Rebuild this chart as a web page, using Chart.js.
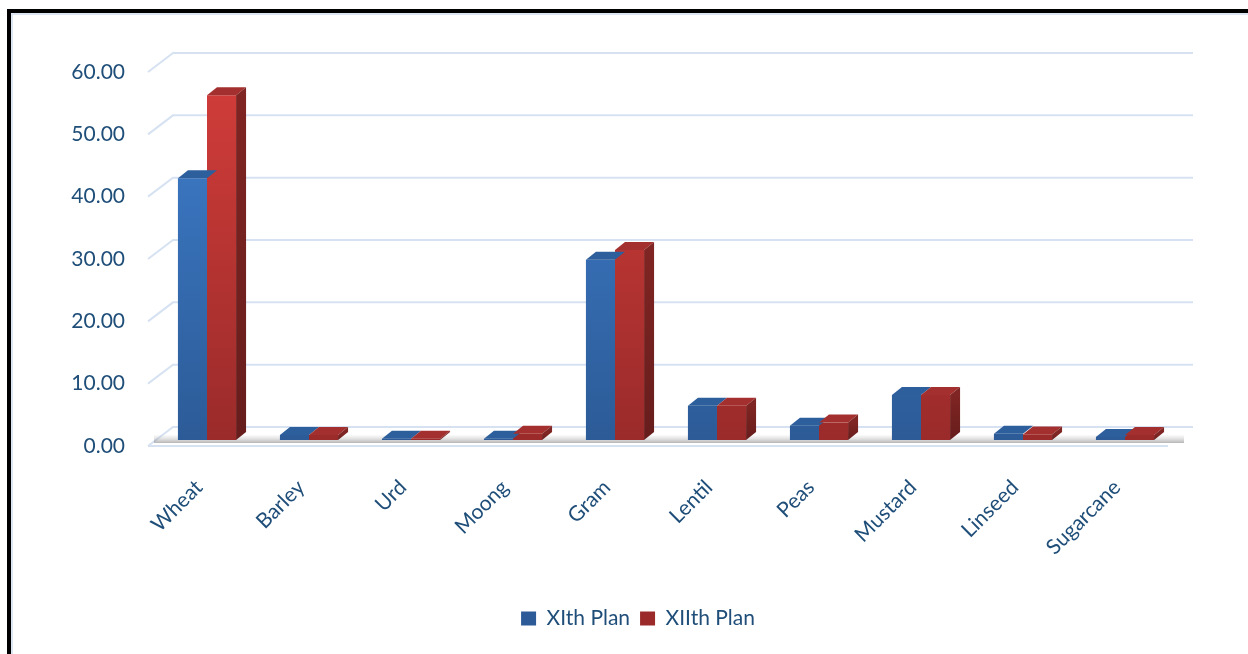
<!DOCTYPE html>
<html>
<head>
<meta charset="utf-8">
<script src="https://cdn.jsdelivr.net/npm/chart.js@4"></script>
<style>
  body { margin: 0; background: #fff; }
  #wrap { position: relative; width: 1248px; height: 654px; overflow: hidden; }
  #frame {
    position: absolute; left: 7px; top: 9px; width: 1260px; height: 660px;
    border-left: 4px solid #000; border-top: 4px solid #000;
    box-shadow: inset 2px 2px 0 #dce6f2;
  }
  canvas { position: absolute; left: 0; top: 0; }
</style>
</head>
<body>
<div id="wrap">
  <canvas id="chart" width="1248" height="654"></canvas>
  <div id="frame"></div>
</div>
<script>
const crops = ["Wheat", "Barley", "Urd", "Moong", "Gram", "Lentil", "Peas", "Mustard", "Linseed", "Sugarcane"];
const xithPlan = [42.0, 0.8, 0.2, 0.2, 28.9, 5.5, 2.3, 7.2, 1.0, 0.5];
const xiithPlan = [55.3, 0.8, 0.2, 1.0, 30.5, 5.5, 2.8, 7.2, 0.9, 0.8];
const yTicks = [0, 10, 20, 30, 40, 50, 60];

// depth of the 3d box and of the bars
const wallDx = 25, wallDy = 19;
const barShiftX = 8, barShiftY = 6;
const barDx = 10, barDy = 8;
const textColor = "#1F4E79";
const fontFamily = "Lato, 'Open Sans', sans-serif";

// gradient from top to bottom of the plot
function fade(top, bottom) {
  return (c) => {
    const { ctx, chartArea } = c.chart;
    if (!chartArea) return top;
    const g = ctx.createLinearGradient(0, chartArea.top, 0, chartArea.bottom);
    g.addColorStop(0, top);
    g.addColorStop(1, bottom);
    return g;
  };
}

// back wall gridlines + floor
const wallPlugin = {
  id: "wall",
  afterLayout(chart) {
    // legend sits a bit right of centre in the original
    chart.legend.left += 54;
    chart.legend.right += 54;
  },
  beforeDatasetsDraw(chart) {
    const { ctx, chartArea } = chart;
    const y = chart.scales.y;
    const left = chartArea.left, right = chartArea.right;
    ctx.save();
    ctx.strokeStyle = "#d6e2f2";
    ctx.lineWidth = 2;
    yTicks.forEach((v) => {
      const py = y.getPixelForValue(v);
      ctx.beginPath();
      ctx.moveTo(left, py);
      ctx.lineTo(left + wallDx, py - wallDy);
      ctx.lineTo(right + wallDx, py - wallDy);
      ctx.stroke();
    });
    // floor front edge
    const base = y.getPixelForValue(0);
    ctx.beginPath();
    ctx.moveTo(left, base);
    ctx.lineTo(right, base);
    ctx.stroke();
    // floor shadow
    const g = ctx.createLinearGradient(0, base - 11, 0, base - 3);
    g.addColorStop(0, "rgba(170,170,170,0.05)");
    g.addColorStop(1, "rgba(110,110,110,0.5)");
    ctx.fillStyle = g;
    ctx.fillRect(left + 6, base - 11, right - left + 10, 8);
    // shift the bars back into the box
    ctx.translate(barShiftX, -barShiftY);
  },
  afterDatasetsDraw(chart) {
    const { ctx } = chart;
    const tops = ["#2e5f9d", "#a3302e"];
    chart.data.datasets.forEach((ds, i) => {
      const meta = chart.getDatasetMeta(i);
      meta.data.forEach((bar) => {
        const l = bar.x - bar.width / 2, r = bar.x + bar.width / 2;
        const t = bar.y, b = bar.base;
        ctx.fillStyle = tops[i];
        ctx.beginPath();
        ctx.moveTo(l, t);
        ctx.lineTo(l + barDx, t - barDy);
        ctx.lineTo(r + barDx, t - barDy);
        ctx.lineTo(r, t);
        ctx.closePath();
        ctx.fill();
        if (i === chart.data.datasets.length - 1) {
          const sg = ctx.createLinearGradient(0, t, 0, b);
          sg.addColorStop(0, "#7f2523");
          sg.addColorStop(1, "#661d1c");
          ctx.fillStyle = sg;
          ctx.beginPath();
          ctx.moveTo(r, t);
          ctx.lineTo(r + barDx, t - barDy);
          ctx.lineTo(r + barDx, b - barDy);
          ctx.lineTo(r, b);
          ctx.closePath();
          ctx.fill();
        }
      });
    });
    ctx.restore();
  },
};

new Chart(document.getElementById("chart"), {
  type: "bar",
  plugins: [wallPlugin],
  data: {
    labels: crops,
    datasets: [
      {
        label: "XIth Plan",
        data: xithPlan,
        backgroundColor: fade("#3f7fce", "#2c5b97"),
        categoryPercentage: 0.57,
        barPercentage: 1.0,
      },
      {
        label: "XIIth Plan",
        data: xiithPlan,
        backgroundColor: fade("#d33d3a", "#9a2b2a"),
        categoryPercentage: 0.57,
        barPercentage: 1.0,
      },
    ],
  },
  options: {
    responsive: false,
    animation: false,
    layout: { padding: { top: 72, right: 80, left: 0, bottom: 15 } },
    plugins: {
      tooltip: { enabled: false },
      legend: {
        position: "bottom",
        labels: {
          boxWidth: 15,
          boxHeight: 14,
          padding: 10,
          color: textColor,
          font: { family: fontFamily, size: 21 },
        },
      },
    },
    scales: {
      y: {
        min: 0,
        max: 60,
        grid: { display: false, drawTicks: false },
        border: { display: false },
        ticks: {
          stepSize: 10,
          padding: 23,
          color: textColor,
          font: { family: fontFamily, size: 21 },
          callback: (v) => Number(v).toFixed(2),
        },
        afterFit: (s) => { s.width = 148; },
      },
      x: {
        grid: { display: false, drawTicks: false },
        border: { display: false },
        ticks: {
          minRotation: 45,
          maxRotation: 45,
          padding: 29,
          color: textColor,
          font: { family: fontFamily, size: 21 },
        },
        afterFit: (s) => { s.height = 152; },
      },
    },
  },
});
</script>
</body>
</html>
